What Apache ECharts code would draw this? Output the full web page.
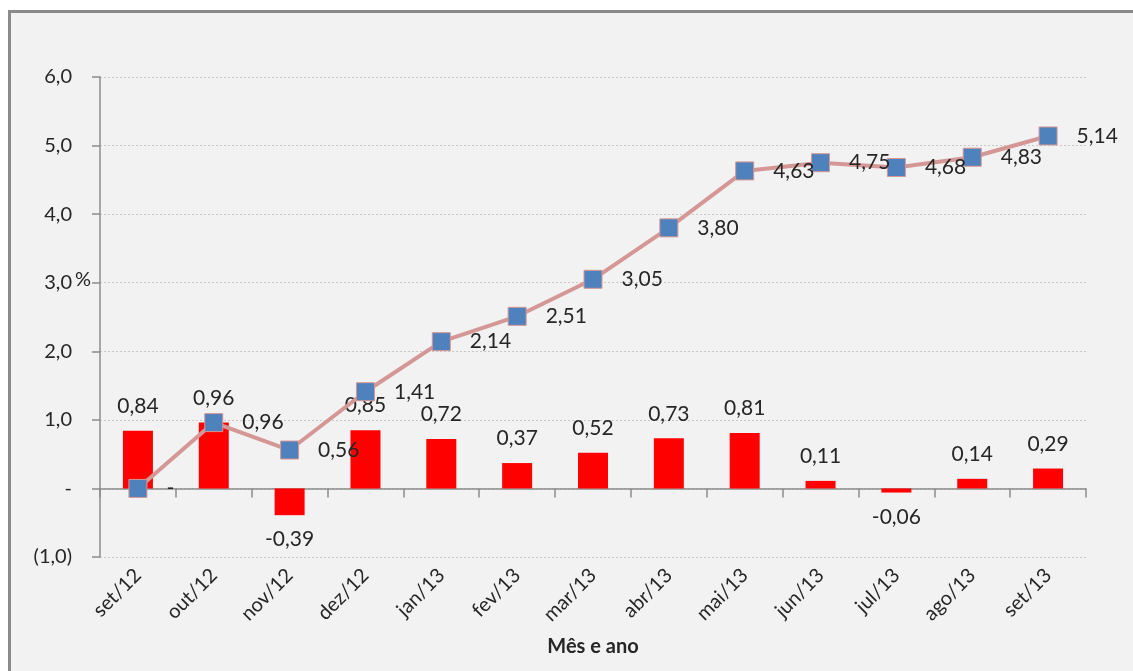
<!DOCTYPE html>
<html>
<head>
<meta charset="utf-8">
<script src="https://cdn.jsdelivr.net/npm/echarts@6/dist/echarts.min.js"></script>
<style>
html,body{margin:0;padding:0;background:#ffffff;}
#chart{width:1133px;height:671px;}
</style>
</head>
<body>
<div id="chart"></div>
<script>
const categories = ['set/12','out/12','nov/12','dez/12','jan/13','fev/13','mar/13','abr/13','mai/13','jun/13','jul/13','ago/13','set/13'];
const monthlyValues = [0.84, 0.96, -0.39, 0.85, 0.72, 0.37, 0.52, 0.73, 0.81, 0.11, -0.06, 0.14, 0.29];
const accumulatedValues = [0, 0.96, 0.56, 1.41, 2.14, 2.51, 3.05, 3.80, 4.63, 4.75, 4.68, 4.83, 5.14];
const yTicks = [-1, 0, 1, 2, 3, 4, 5, 6];
const axisTitle = 'Mês e ano';

const FONT = 'Lato';
const TXT = '#262626';

function fmtVal(v){
  if (v === 0) return '-';
  return v.toFixed(2).replace('.', ',');
}
function fmtTick(v){
  if (v === 0) return '-';
  if (v < 0) return '(' + Math.abs(v).toFixed(1).replace('.', ',') + ')';
  return v.toFixed(1).replace('.', ',');
}

const chart = echarts.init(document.getElementById('chart'), null, {renderer:'canvas'});

const barData = monthlyValues.map(v => ({
  value: v,
  label: { position: v < 0 ? 'bottom' : 'top' }
}));

chart.setOption({
  backgroundColor: '#ffffff',
  animation: false,
  textStyle: { fontFamily: FONT },
  graphic: [
    { type: 'rect', z: -10, shape: { x: 9.5, y: 11.5, width: 1200, height: 700 },
      style: { fill: '#f2f2f2', stroke: '#8a8a8a', lineWidth: 3 } },
    { type: 'text', z: 10, left: 75, top: 270,
      style: { text: '%', font: '20px ' + FONT, fill: TXT } }
  ],
  grid: { left: 100, right: 47, top: 77, bottom: 114, containLabel: false },
  xAxis: [
    {
      type: 'category', data: categories, boundaryGap: true,
      axisLine: { show: true, onZero: true, lineStyle: { color: '#8c8c8c', width: 1.5 } },
      axisTick: { show: true, alignWithLabel: false, length: 9, lineStyle: { color: '#8c8c8c', width: 1.5 } },
      axisLabel: { show: false },
      splitLine: { show: false }
    },
    {
      type: 'category', data: categories, boundaryGap: true, position: 'bottom',
      axisLine: { show: false, onZero: false },
      axisTick: { show: false },
      axisLabel: { show: true, rotate: 45, margin: 15, color: TXT, fontSize: 20, fontFamily: FONT },
      name: axisTitle, nameLocation: 'middle', nameGap: 80,
      nameTextStyle: { color: TXT, fontSize: 20, fontWeight: 'bold', fontFamily: FONT }
    }
  ],
  yAxis: {
    type: 'value', min: -1, max: 6, interval: 1,
    axisLine: { show: true, lineStyle: { color: '#8c8c8c', width: 1.5 } },
    axisTick: { show: true, length: 8, lineStyle: { color: '#8c8c8c', width: 1.5 } },
    axisLabel: { margin: 28, color: TXT, fontSize: 20, fontFamily: FONT,
      formatter: v => yTicks.includes(v) ? fmtTick(v) : '' },
    splitLine: { show: true, lineStyle: { color: '#c8c8c8', type: [2, 2], width: 1 } }
  },
  series: [
    {
      type: 'bar', xAxisIndex: 0, data: barData, barWidth: 30,
      itemStyle: { color: '#ff0000' },
      label: { show: true, distance: 14, color: TXT, fontSize: 21, fontFamily: FONT,
        formatter: p => fmtVal(p.value) }
    },
    {
      type: 'line', xAxisIndex: 0, data: accumulatedValues,
      lineStyle: { color: '#d49795', width: 4 },
      symbol: 'rect', symbolSize: 18,
      itemStyle: { color: '#4f81bd', borderColor: '#d49795', borderWidth: 1 },
      label: { show: true, position: 'right', distance: 19, color: TXT, fontSize: 21, fontFamily: FONT,
        formatter: p => fmtVal(p.value) },
      z: 5
    }
  ]
});
</script>
</body>
</html>
